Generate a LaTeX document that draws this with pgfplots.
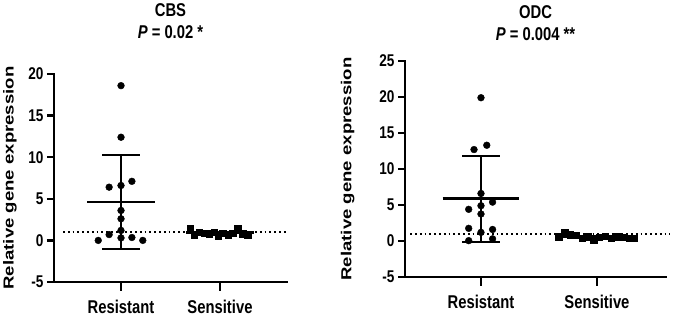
\documentclass[border=0pt]{standalone}
\usepackage{fontspec}
\setmainfont{Liberation Sans}
\newfontfamily\hfont[FakeStretch=0.8]{Liberation Sans}
\newfontfamily\vfont[FakeStretch=1.28]{Liberation Sans}
\usepackage{pgfplots}
\pgfplotsset{compat=1.18}
\tikzset{axframe/.style={black, line width=2.4pt, line join=miter, line cap=rect}}
\pgfplotsset{
 myax/.style={
  scale only axis,
  axis x line=bottom, axis y line=left,
  axis line style={line width=2.4pt, -},
  tick align=outside,
  major tick length=7pt,
  major tick style={line width=2.4pt, black},
  xtick={0,1}, xticklabels={Resistant,Sensitive},
  x tick label style={font=\hfont\bfseries\fontsize{18.5}{19}\selectfont, yshift=-8pt},
  y tick label style={font=\hfont\bfseries\fontsize{17}{18}\selectfont},
  /pgf/number format/assume math mode=true,
  ymin=-5,
  clip=false,
  title style={font=\hfont\bfseries\fontsize{18.5}{22}\selectfont, align=center},
  every axis y label/.style={rotate=90, anchor=center, font=\vfont\bfseries\fontsize{14.5}{15}\selectfont},
  ylabel={Relative gene expression},
 },
 dots/.style={only marks, mark=*, mark size=3.4pt, black, mark options={line width=0.4pt}},
 sq/.style={only marks, mark=square*, mark size=3.2pt, black, mark options={line width=0.4pt}},
 meanl/.style={black, line width=2.4pt, mark=none},
 errl/.style={black, line width=1.4pt, mark=none},
 capl/.style={black, line width=2pt, mark=none},
 dotl/.style={black, line width=1.8pt, dash pattern=on 1.8pt off 3pt, mark=none},
}
\begin{document}
\begin{tikzpicture}
% ---------------- CBS ----------------
\begin{axis}[myax, at={(54pt,-282pt)}, anchor=south west, width=233pt, height=208pt,
  xmin=-0.677, xmax=1.677, ymax=20, ytick={-5,0,5,10,15,20},
  title={CBS\\{\itshape P} = 0.02 *}, title style={yshift=26pt},
  every axis y label/.append style={at={(axis description cs:-0.189,0.5)}}]
\draw[axframe] (rel axis cs:0,1) -- (rel axis cs:0,0) -- (rel axis cs:1,0);
\pgfplotsinvokeforeach{-5,0,5,10,15,20}{\draw[axframe] (axis cs:-0.677,#1) -- ++(-6pt,0pt);}
\pgfplotsinvokeforeach{0,1}{\draw[axframe] (axis cs:#1,-5) -- ++(0pt,-8pt);}
\addplot[dotl] coordinates {(-0.586,1) (1.677,1)};
% Resistant
\addplot[errl] coordinates {(0,-1.0) (0,10.3)};
\addplot[capl] coordinates {(-0.19,10.3) (0.19,10.3)};
\addplot[capl] coordinates {(-0.19,-1.0) (0.19,-1.0)};
\addplot[meanl] coordinates {(-0.34,4.6) (0.34,4.6)};
\addplot[dots] coordinates {(0,18.6) (0,12.4) (-0.12,6.4) (0,6.6) (0.11,7.1) (0,3.6) (0,2.6) (0,1.2) (-0.12,0.7) (0,0.3) (0.11,0.35) (-0.23,0.0) (0.22,0.0)};
% Sensitive
\addplot[errl] coordinates {(1,0.6) (1,1.3)};
\addplot[meanl] coordinates {(0.66,0.95) (1.34,0.95)};
\addplot[sq] coordinates {(0.70,1.5) (0.74,0.7) (0.79,1.0) (0.84,0.9) (0.89,0.8) (0.94,1.0) (0.98,0.5) (1.03,0.9) (1.08,0.7) (1.13,0.9) (1.18,1.4) (1.23,0.8) (1.28,0.7)};
\end{axis}
% ---------------- ODC ----------------
\begin{axis}[myax, at={(405pt,-277pt)}, anchor=south west, width=261pt, height=216pt,
  xmin=-0.655, xmax=1.595, ymax=25, ytick={-5,0,5,10,15,20,25},
  title={ODC\\{\itshape P} = 0.004 **}, title style={yshift=11pt},
  every axis y label/.append style={at={(axis description cs:-0.22,0.5)}}]
\draw[axframe] (rel axis cs:0,1) -- (rel axis cs:0,0) -- (rel axis cs:1,0);
\pgfplotsinvokeforeach{-5,0,5,10,15,20,25}{\draw[axframe] (axis cs:-0.655,#1) -- ++(-6pt,0pt);}
\pgfplotsinvokeforeach{0,1}{\draw[axframe] (axis cs:#1,-5) -- ++(0pt,-8pt);}
\addplot[dotl] coordinates {(-0.61,1) (1.63,1)};
% Resistant
\addplot[errl] coordinates {(0,-0.2) (0,11.85)};
\addplot[capl] coordinates {(-0.16,11.85) (0.16,11.85)};
\addplot[capl] coordinates {(-0.16,-0.2) (0.16,-0.2)};
\addplot[meanl] coordinates {(-0.33,5.9) (0.33,5.9)};
\addplot[dots] coordinates {(0,19.9) (-0.06,12.7) (0.05,13.3) (0,6.6) (0.10,5.4) (-0.106,4.4) (0,4.9) (0,3.75) (-0.106,1.76) (0.10,1.6) (0,1.2) (-0.106,0.05) (0.10,0.3)};
% Sensitive
\addplot[errl] coordinates {(1,0.3) (1,0.9)};
\addplot[meanl] coordinates {(0.67,0.6) (1.33,0.6)};
\addplot[sq] coordinates {(0.67,0.6) (0.72,1.2) (0.77,0.9) (0.82,0.8) (0.87,0.4) (0.92,0.6) (0.97,0.2) (1.02,0.5) (1.07,0.7) (1.12,0.4) (1.17,0.6) (1.22,0.5) (1.28,0.4) (1.32,0.4)};
\end{axis}
\pgfresetboundingbox
\path[use as bounding box] (0pt,0pt) rectangle (677pt,-319pt);
\end{tikzpicture}
\end{document}
